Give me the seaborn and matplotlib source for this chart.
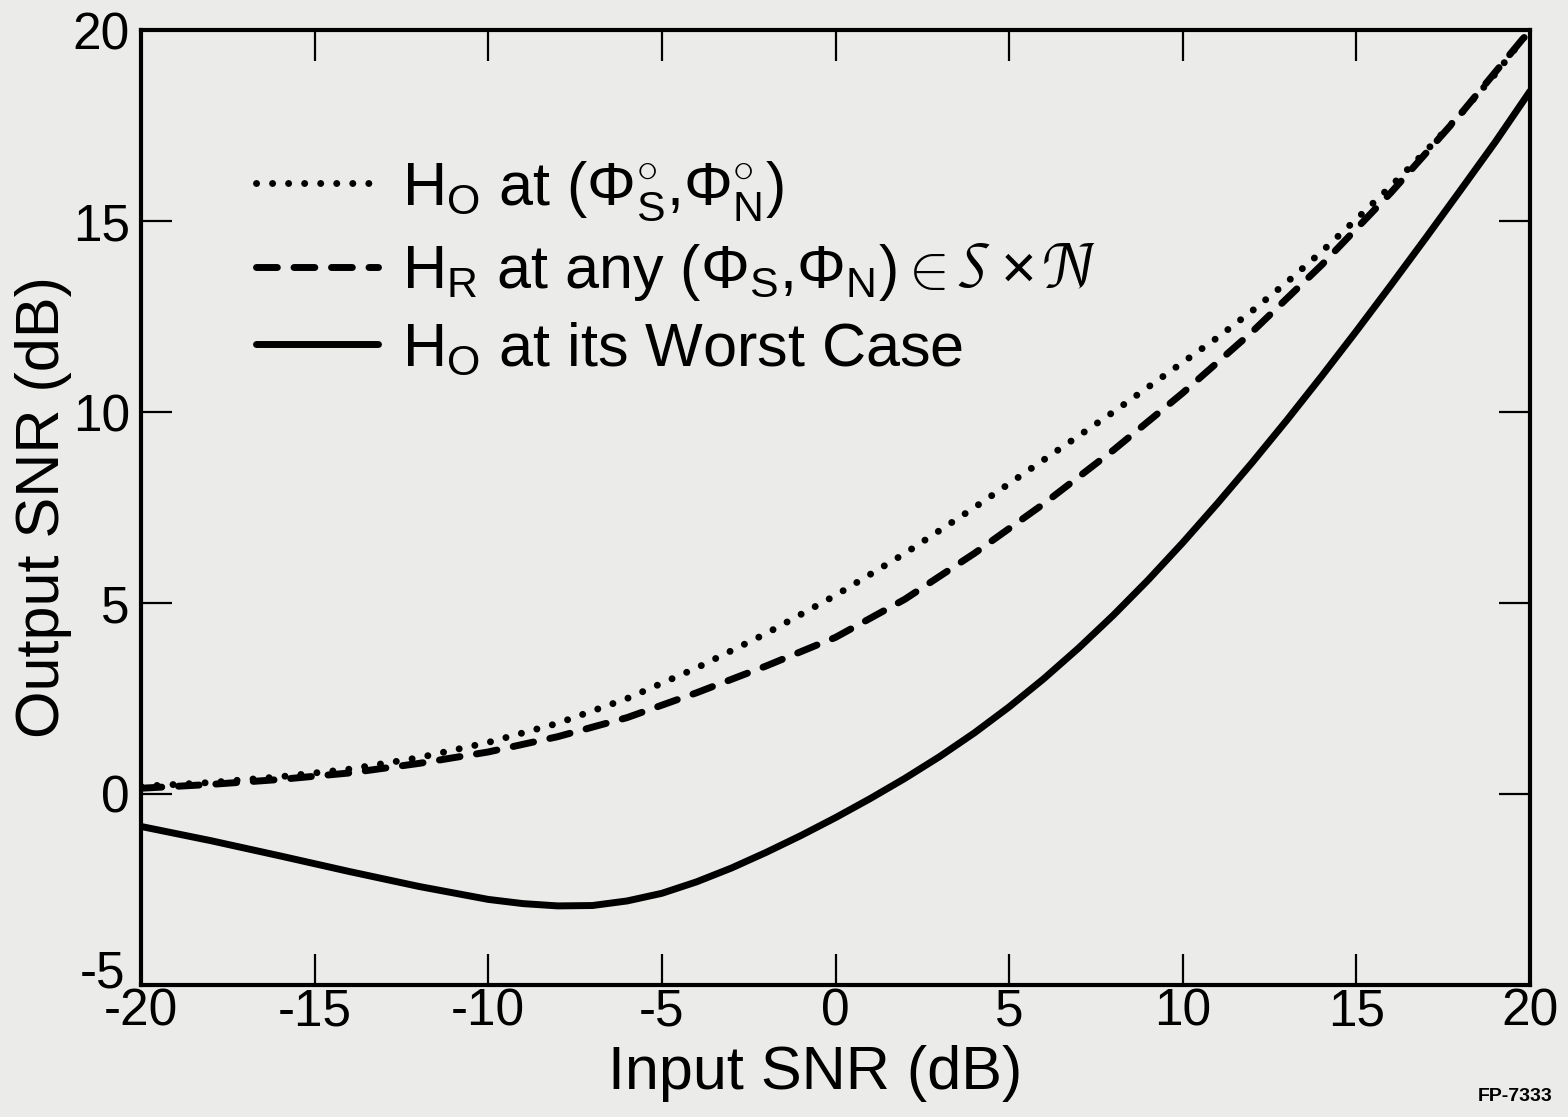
import pandas as pd
import seaborn as sns
import matplotlib.pyplot as plt
from matplotlib.transforms import ScaledTranslation

# values (Input SNR dB -> Output SNR dB)
x_opt = [-20, -18, -16, -14, -12, -10, -8, -6, -4, -2, 0, 2, 4, 6, 8, 10, 11, 12, 13, 14, 15, 16, 17, 18, 19, 20]
y_opt = [0.2, 0.3, 0.45, 0.65, 0.95, 1.35, 1.85, 2.5, 3.3, 4.2, 5.2, 6.3, 7.5, 8.75, 10.0, 11.3,
         11.95, 12.65, 13.4, 14.2, 15.05, 15.92, 16.83, 17.8, 18.85, 20.0]

x_rob = [-20, -18, -16, -14, -12, -10, -8, -6, -4, -2, 0, 2, 4, 6, 8, 10, 12, 14, 16, 18, 20]
y_rob = [0.15, 0.25, 0.38, 0.55, 0.8, 1.1, 1.5, 2.0, 2.65, 3.35, 4.1, 5.1, 6.3, 7.6, 9.0, 10.5,
         12.1, 13.85, 15.75, 17.8, 20.0]

x_worst = [-20, -18, -16, -14, -12, -10, -9, -8, -7, -6, -5, -4, -3, -2, -1, 0, 1, 2, 3, 4, 5,
           6, 7, 8, 9, 10, 11, 12, 13, 14, 15, 16, 17, 18, 19, 20]
y_worst = [-0.85, -1.22, -1.62, -2.03, -2.42, -2.76, -2.87, -2.93, -2.92, -2.8, -2.6, -2.3, -1.94,
           -1.53, -1.09, -0.62, -0.12, 0.41, 0.98, 1.6, 2.28, 3.02, 3.82, 4.68, 5.6, 6.58, 7.61,
           8.68, 9.79, 10.94, 12.12, 13.33, 14.56, 15.81, 17.07, 18.4]

labels = [
    r"H$_\mathsf{O}$ at ($\Phi^{\circ}_\mathsf{S}$,$\Phi^{\circ}_\mathsf{N}$)",
    r"H$_\mathsf{R}$ at any ($\Phi_\mathsf{S}$,$\Phi_\mathsf{N}$)$\in\mathcal{S}\times\mathcal{N}$",
    r"H$_\mathsf{O}$ at its Worst Case",
]

x_ticks = [-20, -15, -10, -5, 0, 5, 10, 15, 20]
y_ticks = [-5, 0, 5, 10, 15, 20]


def main() -> None:
    df = pd.concat([
        pd.DataFrame({'x': x_opt, 'y': y_opt, 'curve': labels[0]}),
        pd.DataFrame({'x': x_rob, 'y': y_rob, 'curve': labels[1]}),
        pd.DataFrame({'x': x_worst, 'y': y_worst, 'curve': labels[2]}),
    ], ignore_index=True)

    sns.set_theme(style="ticks")
    paper = '#ebebea'
    plt.rcParams.update({
        'font.family': ['Liberation Sans', 'DejaVu Sans'],
        'mathtext.fontset': 'custom',
        'mathtext.rm': 'Liberation Sans',
        'mathtext.sf': 'Liberation Sans',
        'mathtext.it': 'Liberation Sans:italic',
        'axes.unicode_minus': False,
        'lines.dash_capstyle': 'round',
        'lines.solid_capstyle': 'round',
        'lines.solid_joinstyle': 'round',
        'figure.facecolor': paper,
        'axes.facecolor': paper,
        'text.color': 'black',
        'axes.labelcolor': 'black',
        'xtick.color': 'black',
        'ytick.color': 'black',
    })

    fig = plt.figure(figsize=(15.68, 11.17), dpi=100)
    ax = fig.add_axes([0.0899, 0.1182, 0.8859, 0.8549])

    dashes = {labels[0]: (0.01, 2.3), labels[1]: (3, 2.4), labels[2]: ""}
    sns.lineplot(data=df, x='x', y='y', style='curve', dashes=dashes,
                 color='black', linewidth=5, sort=False, ax=ax)

    ax.set_xlim(-20, 20)
    ax.set_ylim(-5, 20)
    ax.set_xticks(x_ticks)
    ax.set_yticks(y_ticks)
    ax.set_xticklabels([str(t) for t in x_ticks])
    ax.set_yticklabels([str(t) for t in y_ticks])
    ax.tick_params(direction='in', length=22, width=1.6, top=True, right=True,
                   labelsize=37)
    ax.tick_params(axis='x', pad=2)
    ax.tick_params(axis='y', pad=8)
    for s in ax.spines.values():
        s.set_linewidth(3)
        s.set_color('black')

    # lift the "-5" a little so it clears the "-20" below it
    lowest = ax.get_yticklabels()[0]
    lowest.set_transform(lowest.get_transform() + ScaledTranslation(-0.05, 0.16, fig.dpi_scale_trans))

    ax.set_xlabel('Input SNR (dB)', fontsize=44)
    ax.set_ylabel('Output SNR (dB)', fontsize=44)
    ax.xaxis.set_label_coords(0.485, -0.063)
    ax.yaxis.set_label_coords(-0.05, 0.5)

    leg = ax.legend(loc='upper left', bbox_to_anchor=(0.065, 0.89), frameon=False,
                    fontsize=44, handlelength=2.0, handletextpad=0.4,
                    labelspacing=0.3, borderaxespad=0)
    for line in leg.get_lines():
        line.set_linewidth(5)

    fig.text(0.99, 0.014, 'FP-7333', fontsize=14, fontweight='bold', ha='right')

    plt.savefig('out.png', dpi=100, facecolor=paper)


if __name__ == "__main__":
    main()
